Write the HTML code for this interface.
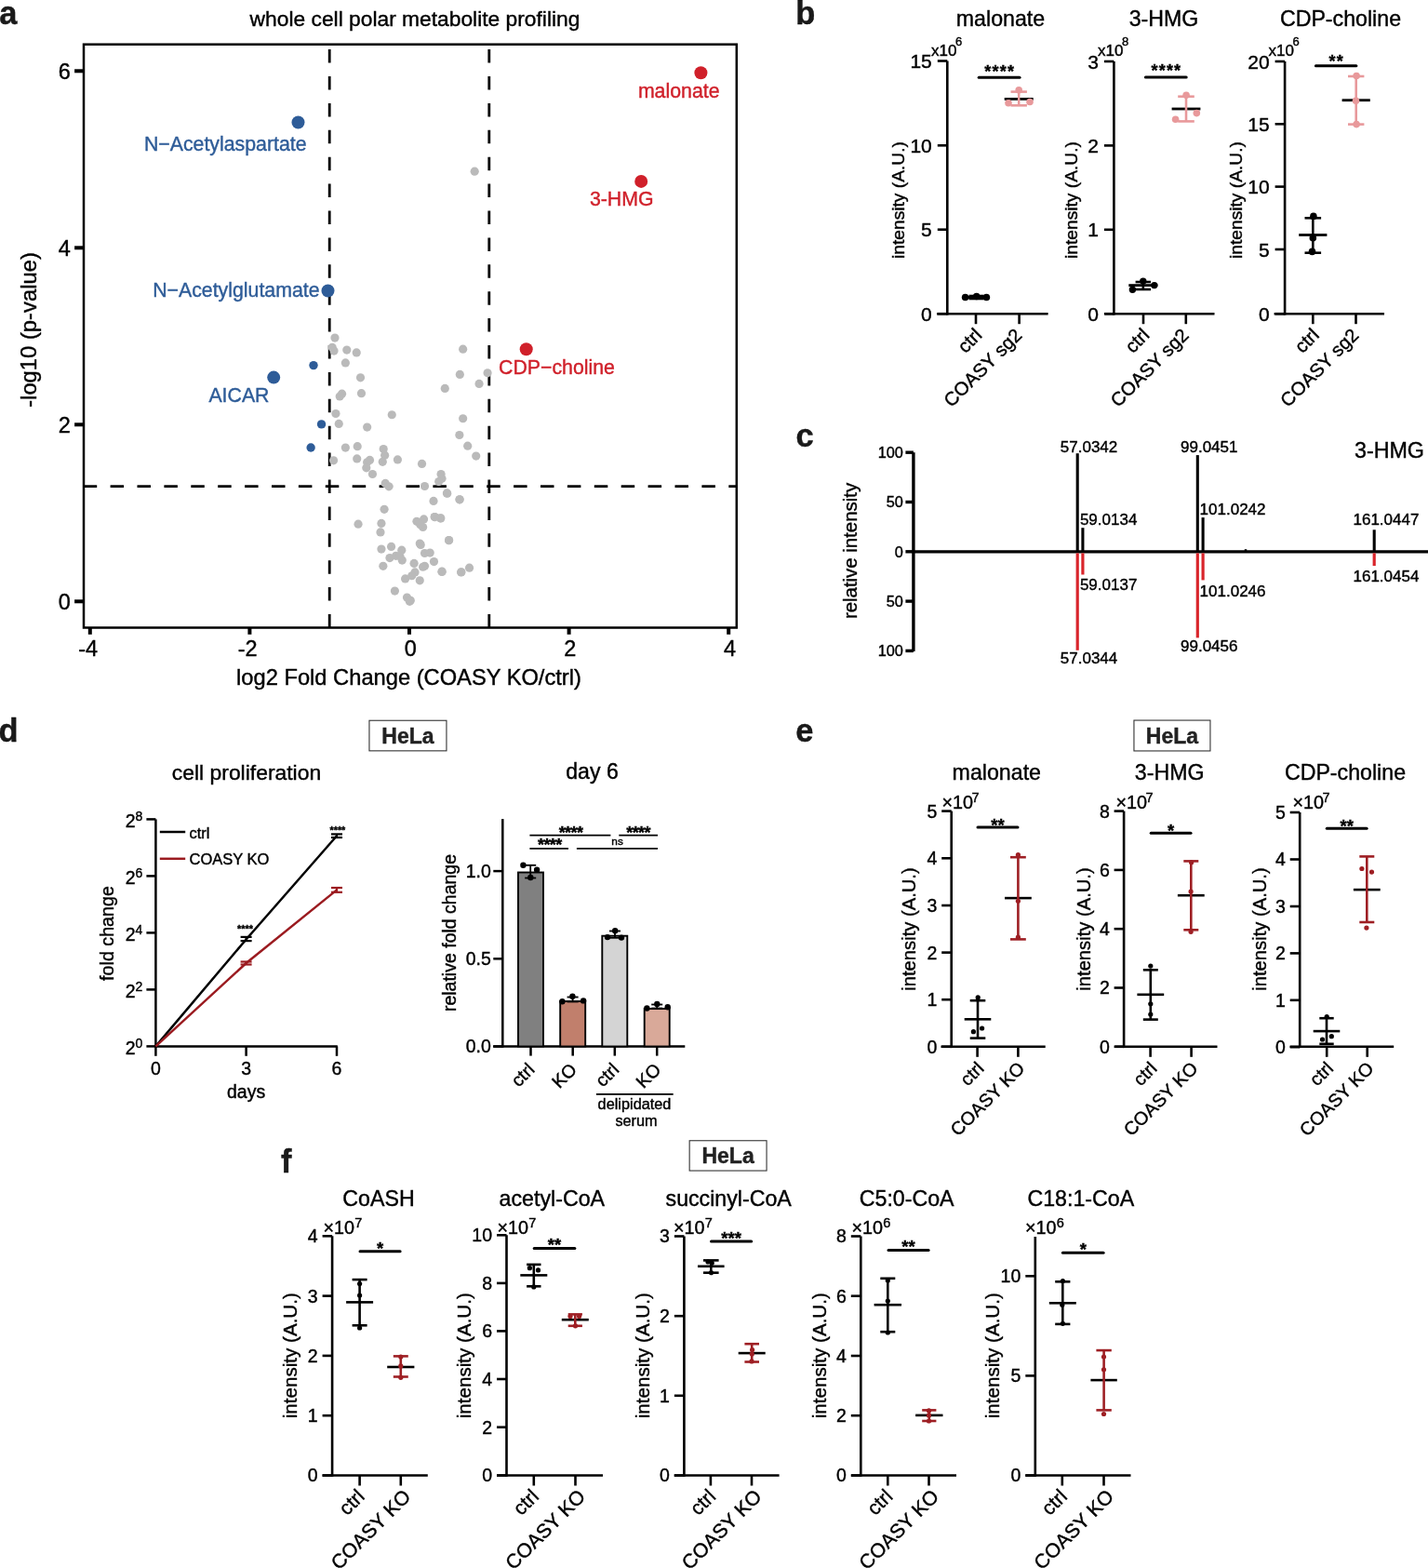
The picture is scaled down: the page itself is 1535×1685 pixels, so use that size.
<!DOCTYPE html>
<html><head><meta charset="utf-8"><title>Figure</title>
<style>
html,body{margin:0;padding:0;background:#fff;}
body{width:1535px;height:1685px;overflow:hidden;}
svg{display:block;}
svg text{font-family:'Liberation Sans', Arial, Helvetica, sans-serif;stroke:currentColor;stroke-width:0.4px;}
</style></head>
<body>
<svg width="1535" height="1685" viewBox="0 0 1535 1685" font-family="'Liberation Sans', Arial, Helvetica, sans-serif">
<rect width="1535" height="1685" fill="#fff"/>
<text transform="translate(-0.7 25.6) scale(0.97 1)" font-size="35.5" font-weight="bold" fill="#1a1a1a">a</text>
<text transform="translate(855.3 26.2) scale(0.97 1)" font-size="35.5" font-weight="bold" fill="#1a1a1a">b</text>
<text transform="translate(855.5 479.5) scale(0.97 1)" font-size="35.5" font-weight="bold" fill="#1a1a1a">c</text>
<text transform="translate(-1.6 796.5) scale(0.97 1)" font-size="35.5" font-weight="bold" fill="#1a1a1a">d</text>
<text transform="translate(855.3 796.7) scale(0.97 1)" font-size="35.5" font-weight="bold" fill="#1a1a1a">e</text>
<text transform="translate(302 1259.7) scale(0.97 1)" font-size="35.5" font-weight="bold" fill="#1a1a1a">f</text>
<text x="446" y="28" font-size="22.8" text-anchor="middle">whole cell polar metabolite profiling</text>
<line x1="354.2" y1="674.5" x2="354.2" y2="47.7" stroke="#000" stroke-width="2.8" stroke-dasharray="14.5 14.4"/>
<line x1="525.8" y1="674.5" x2="525.8" y2="47.7" stroke="#000" stroke-width="2.8" stroke-dasharray="14.5 14.4"/>
<line x1="89.7" y1="522.7" x2="791.8" y2="522.7" stroke="#000" stroke-width="2.8" stroke-dasharray="14.5 14.4"/>
<circle cx="359.97" cy="363.11" r="4.6" fill="#BABABA"/>
<circle cx="357.12" cy="373.27" r="4.6" fill="#BABABA"/>
<circle cx="359.02" cy="377.07" r="4.6" fill="#BABABA"/>
<circle cx="372.8" cy="376.12" r="4.6" fill="#BABABA"/>
<circle cx="383.25" cy="378.97" r="4.6" fill="#BABABA"/>
<circle cx="371.37" cy="389.9" r="4.6" fill="#BABABA"/>
<circle cx="387.52" cy="405.86" r="4.6" fill="#BABABA"/>
<circle cx="367.57" cy="423.15" r="4.6" fill="#BABABA"/>
<circle cx="365.2" cy="426" r="4.6" fill="#BABABA"/>
<circle cx="388.47" cy="422.67" r="4.6" fill="#BABABA"/>
<circle cx="360.92" cy="444.52" r="4.6" fill="#BABABA"/>
<circle cx="421.25" cy="445.75" r="4.6" fill="#BABABA"/>
<circle cx="364.25" cy="455.44" r="4.6" fill="#BABABA"/>
<circle cx="394.65" cy="459.05" r="4.6" fill="#BABABA"/>
<circle cx="371.37" cy="481.09" r="4.6" fill="#BABABA"/>
<circle cx="384.2" cy="479.67" r="4.6" fill="#BABABA"/>
<circle cx="412.22" cy="482.52" r="4.6" fill="#BABABA"/>
<circle cx="413.65" cy="489.17" r="4.6" fill="#BABABA"/>
<circle cx="411.27" cy="496.29" r="4.6" fill="#BABABA"/>
<circle cx="383.72" cy="492.97" r="4.6" fill="#BABABA"/>
<circle cx="397.5" cy="494.39" r="4.6" fill="#BABABA"/>
<circle cx="394.65" cy="496.77" r="4.6" fill="#BABABA"/>
<circle cx="358.55" cy="494.87" r="4.6" fill="#BABABA"/>
<circle cx="427.42" cy="493.92" r="4.6" fill="#BABABA"/>
<circle cx="453.54" cy="498.38" r="4.6" fill="#BABABA"/>
<circle cx="497.66" cy="375.17" r="4.6" fill="#BABABA"/>
<circle cx="494.34" cy="402.44" r="4.6" fill="#BABABA"/>
<circle cx="524.07" cy="400.82" r="4.6" fill="#BABABA"/>
<circle cx="515.05" cy="412.41" r="4.6" fill="#BABABA"/>
<circle cx="478.28" cy="417.45" r="4.6" fill="#BABABA"/>
<circle cx="497.66" cy="449.74" r="4.6" fill="#BABABA"/>
<circle cx="493.86" cy="467.51" r="4.6" fill="#BABABA"/>
<circle cx="502.7" cy="479.19" r="4.6" fill="#BABABA"/>
<circle cx="511.72" cy="490.12" r="4.6" fill="#BABABA"/>
<circle cx="393.8" cy="502.85" r="4.6" fill="#BABABA"/>
<circle cx="400.45" cy="509.5" r="4.6" fill="#BABABA"/>
<circle cx="414.22" cy="519.47" r="4.6" fill="#BABABA"/>
<circle cx="418.02" cy="522.8" r="4.6" fill="#BABABA"/>
<circle cx="456.5" cy="522.51" r="4.6" fill="#BABABA"/>
<circle cx="474.07" cy="509.5" r="4.6" fill="#BABABA"/>
<circle cx="475.02" cy="514.25" r="4.6" fill="#BABABA"/>
<circle cx="471.69" cy="517.57" r="4.6" fill="#BABABA"/>
<circle cx="480.72" cy="530.21" r="4.6" fill="#BABABA"/>
<circle cx="466" cy="538.47" r="4.6" fill="#BABABA"/>
<circle cx="494.02" cy="536.86" r="4.6" fill="#BABABA"/>
<circle cx="413.08" cy="547.31" r="4.6" fill="#BABABA"/>
<circle cx="409.95" cy="562.41" r="4.6" fill="#BABABA"/>
<circle cx="409" cy="571.91" r="4.6" fill="#BABABA"/>
<circle cx="447.95" cy="560.32" r="4.6" fill="#BABABA"/>
<circle cx="455.55" cy="557.95" r="4.6" fill="#BABABA"/>
<circle cx="454.6" cy="566.5" r="4.6" fill="#BABABA"/>
<circle cx="451.75" cy="563.65" r="4.6" fill="#BABABA"/>
<circle cx="467.42" cy="555.57" r="4.6" fill="#BABABA"/>
<circle cx="473.59" cy="556.81" r="4.6" fill="#BABABA"/>
<circle cx="482.62" cy="580.55" r="4.6" fill="#BABABA"/>
<circle cx="451.27" cy="584.07" r="4.6" fill="#BABABA"/>
<circle cx="452.22" cy="585.49" r="4.6" fill="#BABABA"/>
<circle cx="409.95" cy="590.05" r="4.6" fill="#BABABA"/>
<circle cx="420.59" cy="587.39" r="4.6" fill="#BABABA"/>
<circle cx="431.8" cy="591.19" r="4.6" fill="#BABABA"/>
<circle cx="425.62" cy="597.37" r="4.6" fill="#BABABA"/>
<circle cx="418.97" cy="599.55" r="4.6" fill="#BABABA"/>
<circle cx="432.27" cy="602.12" r="4.6" fill="#BABABA"/>
<circle cx="429.9" cy="597.84" r="4.6" fill="#BABABA"/>
<circle cx="456.5" cy="594.52" r="4.6" fill="#BABABA"/>
<circle cx="462.2" cy="594.04" r="4.6" fill="#BABABA"/>
<circle cx="466.47" cy="603.54" r="4.6" fill="#BABABA"/>
<circle cx="456.5" cy="608.29" r="4.6" fill="#BABABA"/>
<circle cx="454.6" cy="609.24" r="4.6" fill="#BABABA"/>
<circle cx="445.1" cy="605.44" r="4.6" fill="#BABABA"/>
<circle cx="446.05" cy="614.94" r="4.6" fill="#BABABA"/>
<circle cx="442.72" cy="618.74" r="4.6" fill="#BABABA"/>
<circle cx="411.85" cy="608.29" r="4.6" fill="#BABABA"/>
<circle cx="475.02" cy="614.47" r="4.6" fill="#BABABA"/>
<circle cx="495.92" cy="614.75" r="4.6" fill="#BABABA"/>
<circle cx="435.6" cy="621.88" r="4.6" fill="#BABABA"/>
<circle cx="451.27" cy="623.78" r="4.6" fill="#BABABA"/>
<circle cx="424.39" cy="635.08" r="4.6" fill="#BABABA"/>
<circle cx="437.5" cy="642.02" r="4.6" fill="#BABABA"/>
<circle cx="441.3" cy="645.34" r="4.6" fill="#BABABA"/>
<circle cx="440.35" cy="646.29" r="4.6" fill="#BABABA"/>
<circle cx="494.1" cy="536.81" r="4.6" fill="#BABABA"/>
<circle cx="482.51" cy="580.69" r="4.6" fill="#BABABA"/>
<circle cx="495.62" cy="614.89" r="4.6" fill="#BABABA"/>
<circle cx="504.54" cy="610.14" r="4.6" fill="#BABABA"/>
<circle cx="475.1" cy="614.13" r="4.6" fill="#BABABA"/>
<circle cx="480.42" cy="529.97" r="4.6" fill="#BABABA"/>
<circle cx="473.77" cy="556.95" r="4.6" fill="#BABABA"/>
<circle cx="467.12" cy="555.62" r="4.6" fill="#BABABA"/>
<circle cx="510.2" cy="184.2" r="4.6" fill="#BABABA"/>
<circle cx="385.05" cy="563.2" r="4.6" fill="#BABABA"/>
<circle cx="294.2" cy="405.6" r="7" fill="#2E5C98"/>
<circle cx="337" cy="392.6" r="4.7" fill="#2E5C98"/>
<circle cx="345.54" cy="455.88" r="4.7" fill="#2E5C98"/>
<circle cx="334.14" cy="480.96" r="4.7" fill="#2E5C98"/>
<circle cx="320.5" cy="131.5" r="7" fill="#2E5C98"/>
<circle cx="352.5" cy="312.5" r="7" fill="#2E5C98"/>
<circle cx="753.4" cy="78.2" r="7" fill="#D0202A"/>
<circle cx="689.2" cy="194.9" r="7" fill="#D0202A"/>
<circle cx="565.7" cy="375.3" r="7" fill="#D0202A"/>
<text x="329.5" y="162" font-size="21.3" text-anchor="end" fill="#2E5C98" color="#2E5C98">N&#8722;Acetylaspartate</text>
<text x="343.5" y="319" font-size="21.3" text-anchor="end" fill="#2E5C98" color="#2E5C98">N&#8722;Acetylglutamate</text>
<text x="289.5" y="432" font-size="21.3" text-anchor="end" fill="#2E5C98" color="#2E5C98">AICAR</text>
<text x="773.5" y="105" font-size="21.3" text-anchor="end" fill="#D0202A" color="#D0202A">malonate</text>
<text x="702.5" y="221" font-size="21.3" text-anchor="end" fill="#D0202A" color="#D0202A">3-HMG</text>
<text x="536" y="402" font-size="21.3" fill="#D0202A" color="#D0202A">CDP&#8722;choline</text>
<rect x="90" y="47.7" width="701.8" height="626.8" fill="none" stroke="#000" stroke-width="2.5"/>
<line x1="80.1" y1="646.3" x2="90" y2="646.3" stroke="#000" stroke-width="4"/>
<text x="75.8" y="654.7" font-size="23.5" text-anchor="end">0</text>
<line x1="80.1" y1="456.3" x2="90" y2="456.3" stroke="#000" stroke-width="4"/>
<text x="75.8" y="464.7" font-size="23.5" text-anchor="end">2</text>
<line x1="80.1" y1="266.3" x2="90" y2="266.3" stroke="#000" stroke-width="4"/>
<text x="75.8" y="274.7" font-size="23.5" text-anchor="end">4</text>
<line x1="80.1" y1="76.3" x2="90" y2="76.3" stroke="#000" stroke-width="4"/>
<text x="75.8" y="84.7" font-size="23.5" text-anchor="end">6</text>
<line x1="96.8" y1="674.5" x2="96.8" y2="681.8" stroke="#000" stroke-width="4"/>
<text x="94.6" y="705.2" font-size="23.5" text-anchor="middle">-4</text>
<line x1="268.4" y1="674.5" x2="268.4" y2="681.8" stroke="#000" stroke-width="4"/>
<text x="266.2" y="705.2" font-size="23.5" text-anchor="middle">-2</text>
<line x1="440" y1="674.5" x2="440" y2="681.8" stroke="#000" stroke-width="4"/>
<text x="441.3" y="705.2" font-size="23.5" text-anchor="middle">0</text>
<line x1="611.6" y1="674.5" x2="611.6" y2="681.8" stroke="#000" stroke-width="4"/>
<text x="612.9" y="705.2" font-size="23.5" text-anchor="middle">2</text>
<line x1="783.2" y1="674.5" x2="783.2" y2="681.8" stroke="#000" stroke-width="4"/>
<text x="784.5" y="705.2" font-size="23.5" text-anchor="middle">4</text>
<text x="439.5" y="735.5" font-size="23.7" text-anchor="middle">log2 Fold Change (COASY KO/ctrl)</text>
<text x="39.3" y="354.5" font-size="23.8" text-anchor="middle" transform="rotate(-90 39.3 354.5)">-log10 (p-value)</text>
<text x="1075.5" y="28" font-size="23.2" text-anchor="middle">malonate</text>
<line x1="1018.3" y1="65.5" x2="1018.3" y2="338.5" stroke="#000" stroke-width="2.6"/>
<line x1="1007" y1="337.2" x2="1126.6" y2="337.2" stroke="#000" stroke-width="2.6"/>
<line x1="1007.8" y1="65.5" x2="1018.3" y2="65.5" stroke="#000" stroke-width="2.6"/>
<text x="1001.8" y="73.02" font-size="21" text-anchor="end">15</text>
<line x1="1007.8" y1="156.3" x2="1018.3" y2="156.3" stroke="#000" stroke-width="2.6"/>
<text x="1001.8" y="163.82" font-size="21" text-anchor="end">10</text>
<line x1="1007.8" y1="246.7" x2="1018.3" y2="246.7" stroke="#000" stroke-width="2.6"/>
<text x="1001.8" y="254.22" font-size="21" text-anchor="end">5</text>
<line x1="1007.8" y1="337.2" x2="1018.3" y2="337.2" stroke="#000" stroke-width="2.6"/>
<text x="1001.8" y="344.72" font-size="21" text-anchor="end">0</text>
<line x1="1049" y1="337.2" x2="1049" y2="348.2" stroke="#000" stroke-width="2.6"/>
<line x1="1095.6" y1="337.2" x2="1095.6" y2="348.2" stroke="#000" stroke-width="2.6"/>
<text x="1001" y="59.7" font-size="17">x10<tspan font-size="13" dx="-1.4" dy="-11">6</tspan></text>
<text x="972.1" y="215" font-size="19.2" text-anchor="middle" transform="rotate(-90 972.1 215)">intensity (A.U.)</text>
<text x="1056.8" y="361.4" font-size="20.3" text-anchor="end" transform="rotate(-45 1056.8 361.4)">ctrl</text>
<text x="1099.8" y="361.4" font-size="20.3" text-anchor="end" transform="rotate(-45 1099.8 361.4)">COASY sg2</text>
<line x1="1052.2" y1="83.3" x2="1096" y2="83.3" stroke="#000" stroke-width="3" stroke-linecap="round"/>
<text x="1074.7" y="82.5" font-size="18" text-anchor="middle" font-weight="bold" letter-spacing="1.2">****</text>
<line x1="1035.5" y1="319.5" x2="1063.5" y2="319.5" stroke="#000" stroke-width="2.8"/>
<line x1="1049.5" y1="318" x2="1049.5" y2="321" stroke="#000" stroke-width="2.6"/>
<line x1="1041.5" y1="318" x2="1057.5" y2="318" stroke="#000" stroke-width="2.6"/>
<line x1="1041.5" y1="321" x2="1057.5" y2="321" stroke="#000" stroke-width="2.6"/>
<circle cx="1037.6" cy="319.5" r="3.8" fill="#000"/>
<circle cx="1049.7" cy="318.5" r="3.8" fill="#000"/>
<circle cx="1060.4" cy="319.5" r="3.8" fill="#000"/>
<line x1="1079.7" y1="106.4" x2="1110.7" y2="106.4" stroke="#000" stroke-width="2.8"/>
<line x1="1095.2" y1="98.6" x2="1095.2" y2="113.3" stroke="#E8999B" stroke-width="2.6"/>
<line x1="1086.5" y1="98.6" x2="1103.9" y2="98.6" stroke="#E8999B" stroke-width="2.6"/>
<line x1="1086.5" y1="113.3" x2="1103.9" y2="113.3" stroke="#E8999B" stroke-width="2.6"/>
<circle cx="1095.2" cy="96.8" r="3.8" fill="#E8999B"/>
<circle cx="1084" cy="110.8" r="3.8" fill="#E8999B"/>
<circle cx="1107" cy="109.5" r="3.8" fill="#E8999B"/>
<text x="1251" y="28" font-size="23.2" text-anchor="middle">3-HMG</text>
<line x1="1197.4" y1="66" x2="1197.4" y2="338.5" stroke="#000" stroke-width="2.6"/>
<line x1="1187.4" y1="337.2" x2="1305.5" y2="337.2" stroke="#000" stroke-width="2.6"/>
<line x1="1186.9" y1="66" x2="1197.4" y2="66" stroke="#000" stroke-width="2.6"/>
<text x="1180.9" y="73.52" font-size="21" text-anchor="end">3</text>
<line x1="1186.9" y1="156.4" x2="1197.4" y2="156.4" stroke="#000" stroke-width="2.6"/>
<text x="1180.9" y="163.92" font-size="21" text-anchor="end">2</text>
<line x1="1186.9" y1="246.8" x2="1197.4" y2="246.8" stroke="#000" stroke-width="2.6"/>
<text x="1180.9" y="254.32" font-size="21" text-anchor="end">1</text>
<line x1="1186.9" y1="337.2" x2="1197.4" y2="337.2" stroke="#000" stroke-width="2.6"/>
<text x="1180.9" y="344.72" font-size="21" text-anchor="end">0</text>
<line x1="1229" y1="337.2" x2="1229" y2="348.2" stroke="#000" stroke-width="2.6"/>
<line x1="1274.8" y1="337.2" x2="1274.8" y2="348.2" stroke="#000" stroke-width="2.6"/>
<text x="1180" y="59.7" font-size="17">x10<tspan font-size="13" dx="-1.4" dy="-11">8</tspan></text>
<text x="1158.1" y="215" font-size="19.2" text-anchor="middle" transform="rotate(-90 1158.1 215)">intensity (A.U.)</text>
<text x="1236.8" y="361.4" font-size="20.3" text-anchor="end" transform="rotate(-45 1236.8 361.4)">ctrl</text>
<text x="1279" y="361.4" font-size="20.3" text-anchor="end" transform="rotate(-45 1279 361.4)">COASY sg2</text>
<line x1="1231.4" y1="83.1" x2="1275.2" y2="83.1" stroke="#000" stroke-width="3" stroke-linecap="round"/>
<text x="1253.9" y="82.3" font-size="18" text-anchor="middle" font-weight="bold" letter-spacing="1.2">****</text>
<line x1="1213.3" y1="306.6" x2="1244.3" y2="306.6" stroke="#000" stroke-width="2.8"/>
<line x1="1228.8" y1="303" x2="1228.8" y2="311" stroke="#000" stroke-width="2.6"/>
<line x1="1220.6" y1="303" x2="1237" y2="303" stroke="#000" stroke-width="2.6"/>
<line x1="1220.6" y1="311" x2="1237" y2="311" stroke="#000" stroke-width="2.6"/>
<circle cx="1217.4" cy="311.2" r="3.7" fill="#000"/>
<circle cx="1228.8" cy="302.1" r="3.7" fill="#000"/>
<circle cx="1240.8" cy="306.6" r="3.7" fill="#000"/>
<line x1="1259.6" y1="117" x2="1290.4" y2="117" stroke="#000" stroke-width="2.8"/>
<line x1="1275" y1="103.7" x2="1275" y2="130.4" stroke="#E8999B" stroke-width="2.6"/>
<line x1="1266.2" y1="103.7" x2="1283.8" y2="103.7" stroke="#E8999B" stroke-width="2.6"/>
<line x1="1266.2" y1="130.4" x2="1283.8" y2="130.4" stroke="#E8999B" stroke-width="2.6"/>
<circle cx="1275.1" cy="102.3" r="3.8" fill="#E8999B"/>
<circle cx="1263.6" cy="128.2" r="3.8" fill="#E8999B"/>
<circle cx="1286.3" cy="121.6" r="3.8" fill="#E8999B"/>
<text x="1441" y="28" font-size="23.2" text-anchor="middle">CDP-choline</text>
<line x1="1381.1" y1="66" x2="1381.1" y2="338.5" stroke="#000" stroke-width="2.6"/>
<line x1="1369.6" y1="337.2" x2="1488" y2="337.2" stroke="#000" stroke-width="2.6"/>
<line x1="1370.6" y1="66" x2="1381.1" y2="66" stroke="#000" stroke-width="2.6"/>
<text x="1364.6" y="73.52" font-size="21" text-anchor="end">20</text>
<line x1="1370.6" y1="133.3" x2="1381.1" y2="133.3" stroke="#000" stroke-width="2.6"/>
<text x="1364.6" y="140.82" font-size="21" text-anchor="end">15</text>
<line x1="1370.6" y1="200.6" x2="1381.1" y2="200.6" stroke="#000" stroke-width="2.6"/>
<text x="1364.6" y="208.12" font-size="21" text-anchor="end">10</text>
<line x1="1370.6" y1="268" x2="1381.1" y2="268" stroke="#000" stroke-width="2.6"/>
<text x="1364.6" y="275.52" font-size="21" text-anchor="end">5</text>
<line x1="1370.6" y1="337.2" x2="1381.1" y2="337.2" stroke="#000" stroke-width="2.6"/>
<text x="1364.6" y="344.72" font-size="21" text-anchor="end">0</text>
<line x1="1411.3" y1="337.2" x2="1411.3" y2="348.2" stroke="#000" stroke-width="2.6"/>
<line x1="1457.5" y1="337.2" x2="1457.5" y2="348.2" stroke="#000" stroke-width="2.6"/>
<text x="1363.5" y="59.7" font-size="17">x10<tspan font-size="13" dx="-1.4" dy="-11">6</tspan></text>
<text x="1334.5" y="215" font-size="19.2" text-anchor="middle" transform="rotate(-90 1334.5 215)">intensity (A.U.)</text>
<text x="1419.1" y="361.4" font-size="20.3" text-anchor="end" transform="rotate(-45 1419.1 361.4)">ctrl</text>
<text x="1461.7" y="361.4" font-size="20.3" text-anchor="end" transform="rotate(-45 1461.7 361.4)">COASY sg2</text>
<line x1="1414.4" y1="70.8" x2="1457.9" y2="70.8" stroke="#000" stroke-width="3" stroke-linecap="round"/>
<text x="1436.75" y="72.1" font-size="18" text-anchor="middle" font-weight="bold" letter-spacing="1.2">**</text>
<line x1="1396.2" y1="252.5" x2="1426.4" y2="252.5" stroke="#000" stroke-width="2.8"/>
<line x1="1411.3" y1="234.3" x2="1411.3" y2="271.7" stroke="#000" stroke-width="2.6"/>
<line x1="1402.5" y1="234.3" x2="1420.1" y2="234.3" stroke="#000" stroke-width="2.6"/>
<line x1="1402.5" y1="271.7" x2="1420.1" y2="271.7" stroke="#000" stroke-width="2.6"/>
<circle cx="1411.9" cy="232.4" r="3.8" fill="#000"/>
<circle cx="1411.3" cy="255.7" r="3.8" fill="#000"/>
<circle cx="1410.5" cy="270.4" r="3.8" fill="#000"/>
<line x1="1442.6" y1="107.7" x2="1472.8" y2="107.7" stroke="#000" stroke-width="2.8"/>
<line x1="1457.7" y1="82" x2="1457.7" y2="133.6" stroke="#E8999B" stroke-width="2.6"/>
<line x1="1449" y1="82" x2="1466.4" y2="82" stroke="#E8999B" stroke-width="2.6"/>
<line x1="1449" y1="133.6" x2="1466.4" y2="133.6" stroke="#E8999B" stroke-width="2.6"/>
<circle cx="1458.1" cy="81.5" r="3.8" fill="#E8999B"/>
<circle cx="1457.5" cy="108.2" r="3.8" fill="#E8999B"/>
<circle cx="1458.1" cy="133.6" r="3.8" fill="#E8999B"/>
<line x1="981.9" y1="486.2" x2="981.9" y2="699.9" stroke="#000" stroke-width="3.4"/>
<line x1="981.9" y1="592.8" x2="1535" y2="592.8" stroke="#000" stroke-width="3.2"/>
<line x1="973.4" y1="486.2" x2="981.9" y2="486.2" stroke="#000" stroke-width="3.4"/>
<text x="970.9" y="492" font-size="16.3" text-anchor="end">100</text>
<line x1="973.4" y1="539.5" x2="981.9" y2="539.5" stroke="#000" stroke-width="3.4"/>
<text x="970.9" y="545.3" font-size="16.3" text-anchor="end">50</text>
<line x1="973.4" y1="592.8" x2="981.9" y2="592.8" stroke="#000" stroke-width="3.4"/>
<text x="970.9" y="598.6" font-size="16.3" text-anchor="end">0</text>
<line x1="973.4" y1="646.1" x2="981.9" y2="646.1" stroke="#000" stroke-width="3.4"/>
<text x="970.9" y="651.9" font-size="16.3" text-anchor="end">50</text>
<line x1="973.4" y1="699.4" x2="981.9" y2="699.4" stroke="#000" stroke-width="3.4"/>
<text x="970.9" y="705.2" font-size="16.3" text-anchor="end">100</text>
<text x="921.3" y="592" font-size="20.4" text-anchor="middle" transform="rotate(-90 921.3 592)">relative intensity</text>
<text x="1531" y="491.5" font-size="23.3" text-anchor="end">3-HMG</text>
<line x1="1158.2" y1="592.8" x2="1158.2" y2="487.2" stroke="#000" stroke-width="3.1"/>
<line x1="1163.9" y1="592.8" x2="1163.9" y2="567.2" stroke="#000" stroke-width="3.1"/>
<line x1="1287.3" y1="592.8" x2="1287.3" y2="489.1" stroke="#000" stroke-width="3.1"/>
<line x1="1293.1" y1="592.8" x2="1293.1" y2="556.1" stroke="#000" stroke-width="3.1"/>
<line x1="1477.2" y1="592.8" x2="1477.2" y2="569.3" stroke="#000" stroke-width="3.1"/>
<line x1="1158.2" y1="594.4" x2="1158.2" y2="698.8" stroke="#D9252B" stroke-width="3.2"/>
<line x1="1163.9" y1="594.4" x2="1163.9" y2="617.5" stroke="#D9252B" stroke-width="3.2"/>
<line x1="1287.3" y1="594.4" x2="1287.3" y2="685.4" stroke="#D9252B" stroke-width="3.2"/>
<line x1="1293.1" y1="594.4" x2="1293.1" y2="623.4" stroke="#D9252B" stroke-width="3.2"/>
<line x1="1477.2" y1="594.4" x2="1477.2" y2="608.1" stroke="#D9252B" stroke-width="3.2"/>
<line x1="1339" y1="592.8" x2="1339" y2="590.2" stroke="#000" stroke-width="2.5"/>
<text x="1139.8" y="486.2" font-size="17">57.0342</text>
<text x="1160.9" y="564" font-size="17">59.0134</text>
<text x="1269" y="486.2" font-size="17">99.0451</text>
<text x="1289.6" y="552.7" font-size="17">101.0242</text>
<text x="1454.5" y="564" font-size="17">161.0447</text>
<text x="1160.9" y="633.9" font-size="17">59.0137</text>
<text x="1289.6" y="641" font-size="17">101.0246</text>
<text x="1454.5" y="624.7" font-size="17">161.0454</text>
<text x="1139.8" y="713.1" font-size="17">57.0344</text>
<text x="1269" y="699.9" font-size="17">99.0456</text>
<rect x="396.95" y="774.25" width="83" height="32.6" fill="#fff" stroke="#333" stroke-width="1.1"/>
<text x="438.45" y="799.2" font-size="23" text-anchor="middle" fill="#222" color="#222" font-weight="bold">HeLa</text>
<rect x="1218.95" y="774.05" width="82" height="32.9" fill="#fff" stroke="#333" stroke-width="1.1"/>
<text x="1259.95" y="798.9" font-size="23" text-anchor="middle" fill="#222" color="#222" font-weight="bold">HeLa</text>
<rect x="741.15" y="1225.75" width="82.9" height="32.3" fill="#fff" stroke="#333" stroke-width="1.1"/>
<text x="782.6" y="1250.1" font-size="23" text-anchor="middle" fill="#222" color="#222" font-weight="bold">HeLa</text>
<text x="265" y="838" font-size="22.9" text-anchor="middle">cell proliferation</text>
<line x1="167.4" y1="880.4" x2="167.4" y2="1125.6" stroke="#000" stroke-width="2.5"/>
<line x1="166.2" y1="1124.4" x2="362.8" y2="1124.4" stroke="#000" stroke-width="2.5"/>
<line x1="157.4" y1="880.4" x2="167.4" y2="880.4" stroke="#000" stroke-width="2.5"/>
<text x="153.4" y="888.9" font-size="19.5" text-anchor="end">2<tspan font-size="14" dy="-6.9">8</tspan></text>
<line x1="157.4" y1="941.4" x2="167.4" y2="941.4" stroke="#000" stroke-width="2.5"/>
<text x="153.4" y="949.9" font-size="19.5" text-anchor="end">2<tspan font-size="14" dy="-6.9">6</tspan></text>
<line x1="157.4" y1="1002.4" x2="167.4" y2="1002.4" stroke="#000" stroke-width="2.5"/>
<text x="153.4" y="1010.9" font-size="19.5" text-anchor="end">2<tspan font-size="14" dy="-6.9">4</tspan></text>
<line x1="157.4" y1="1063.4" x2="167.4" y2="1063.4" stroke="#000" stroke-width="2.5"/>
<text x="153.4" y="1071.9" font-size="19.5" text-anchor="end">2<tspan font-size="14" dy="-6.9">2</tspan></text>
<line x1="157.4" y1="1124.4" x2="167.4" y2="1124.4" stroke="#000" stroke-width="2.5"/>
<text x="153.4" y="1132.9" font-size="19.5" text-anchor="end">2<tspan font-size="14" dy="-6.9">0</tspan></text>
<line x1="167.4" y1="1124.4" x2="167.4" y2="1134.8" stroke="#000" stroke-width="2.5"/>
<text x="167.4" y="1155.3" font-size="19.5" text-anchor="middle">0</text>
<line x1="264.6" y1="1124.4" x2="264.6" y2="1134.8" stroke="#000" stroke-width="2.5"/>
<text x="264.6" y="1155.3" font-size="19.5" text-anchor="middle">3</text>
<line x1="362" y1="1124.4" x2="362" y2="1134.8" stroke="#000" stroke-width="2.5"/>
<text x="362" y="1155.3" font-size="19.5" text-anchor="middle">6</text>
<text x="264.6" y="1180" font-size="19.5" text-anchor="middle">days</text>
<text x="121.5" y="1003" font-size="19.7" text-anchor="middle" transform="rotate(-90 121.5 1003)">fold change</text>
<polyline points="167.4,1124.4 264.6,1009.5 362,898.2" fill="none" stroke="#000" stroke-width="2.5"/>
<polyline points="167.4,1124.4 264.6,1035 362,956.4" fill="none" stroke="#9B1B20" stroke-width="2.5"/>
<line x1="258.6" y1="1006.9" x2="270.6" y2="1006.9" stroke="#000" stroke-width="2.2"/>
<line x1="258.6" y1="1011.1" x2="270.6" y2="1011.1" stroke="#000" stroke-width="2.2"/>
<line x1="264.6" y1="1006.9" x2="264.6" y2="1011.1" stroke="#000" stroke-width="2.2"/>
<line x1="356" y1="896.4" x2="368" y2="896.4" stroke="#000" stroke-width="2.2"/>
<line x1="356" y1="900" x2="368" y2="900" stroke="#000" stroke-width="2.2"/>
<line x1="362" y1="896.4" x2="362" y2="900" stroke="#000" stroke-width="2.2"/>
<line x1="258.6" y1="1033.5" x2="270.6" y2="1033.5" stroke="#9B1B20" stroke-width="2.2"/>
<line x1="258.6" y1="1036.5" x2="270.6" y2="1036.5" stroke="#9B1B20" stroke-width="2.2"/>
<line x1="264.6" y1="1033.5" x2="264.6" y2="1036.5" stroke="#9B1B20" stroke-width="2.2"/>
<line x1="356" y1="954" x2="368" y2="954" stroke="#9B1B20" stroke-width="2.2"/>
<line x1="356" y1="958.8" x2="368" y2="958.8" stroke="#9B1B20" stroke-width="2.2"/>
<line x1="362" y1="954" x2="362" y2="958.8" stroke="#9B1B20" stroke-width="2.2"/>
<text x="263.5" y="1002" font-size="10.8" text-anchor="middle" font-weight="bold">****</text>
<text x="362.9" y="895.9" font-size="10.8" text-anchor="middle" font-weight="bold">****</text>
<line x1="171.8" y1="894" x2="199.2" y2="894" stroke="#000" stroke-width="2.5"/>
<line x1="171.8" y1="922.8" x2="199.2" y2="922.8" stroke="#9B1B20" stroke-width="2.5"/>
<text x="203.5" y="900.5" font-size="16.5">ctrl</text>
<text x="203.5" y="929" font-size="16.5">COASY KO</text>
<text x="636.5" y="837.3" font-size="23.1" text-anchor="middle">day 6</text>
<line x1="540.3" y1="880.1" x2="540.3" y2="1125.7" stroke="#000" stroke-width="2.5"/>
<line x1="530.2" y1="1124.5" x2="736.3" y2="1124.5" stroke="#000" stroke-width="2.5"/>
<line x1="530.3" y1="936.1" x2="540.3" y2="936.1" stroke="#000" stroke-width="2.5"/>
<text x="527.8" y="943" font-size="19.5" text-anchor="end">1.0</text>
<line x1="530.3" y1="1030.3" x2="540.3" y2="1030.3" stroke="#000" stroke-width="2.5"/>
<text x="527.8" y="1037.2" font-size="19.5" text-anchor="end">0.5</text>
<line x1="530.3" y1="1124.5" x2="540.3" y2="1124.5" stroke="#000" stroke-width="2.5"/>
<text x="527.8" y="1131.4" font-size="19.5" text-anchor="end">0.0</text>
<text x="490" y="1002.5" font-size="19.5" text-anchor="middle" transform="rotate(-90 490 1002.5)">relative fold change</text>
<rect x="557" y="937.5" width="27" height="187" fill="#808080" stroke="#000" stroke-width="1.9"/>
<line x1="570.5" y1="1124.5" x2="570.5" y2="1134.6" stroke="#000" stroke-width="2.5"/>
<rect x="602.2" y="1076" width="27" height="48.5" fill="#C17F6C" stroke="#000" stroke-width="1.9"/>
<line x1="615.7" y1="1124.5" x2="615.7" y2="1134.6" stroke="#000" stroke-width="2.5"/>
<rect x="647.3" y="1005.7" width="27" height="118.8" fill="#D4D4D4" stroke="#000" stroke-width="1.9"/>
<line x1="660.8" y1="1124.5" x2="660.8" y2="1134.6" stroke="#000" stroke-width="2.5"/>
<rect x="692.7" y="1084" width="27" height="40.5" fill="#D9A999" stroke="#000" stroke-width="1.9"/>
<line x1="706.2" y1="1124.5" x2="706.2" y2="1134.6" stroke="#000" stroke-width="2.5"/>
<line x1="570.2" y1="929.8" x2="570.2" y2="943.5" stroke="#000" stroke-width="1.8"/>
<line x1="564.2" y1="929.8" x2="576.2" y2="929.8" stroke="#000" stroke-width="1.8"/>
<line x1="564.2" y1="943.5" x2="576.2" y2="943.5" stroke="#000" stroke-width="1.8"/>
<circle cx="562.4" cy="929.8" r="3.2" fill="#000"/>
<circle cx="577.1" cy="934.7" r="3.2" fill="#000"/>
<circle cx="570.3" cy="943" r="3.2" fill="#000"/>
<line x1="615.6" y1="1071.5" x2="615.6" y2="1076.5" stroke="#000" stroke-width="1.8"/>
<line x1="609.6" y1="1071.5" x2="621.6" y2="1071.5" stroke="#000" stroke-width="1.8"/>
<line x1="609.6" y1="1076.5" x2="621.6" y2="1076.5" stroke="#000" stroke-width="1.8"/>
<circle cx="604.4" cy="1076.2" r="3.2" fill="#000"/>
<circle cx="615.4" cy="1070.7" r="3.2" fill="#000"/>
<circle cx="627.1" cy="1075.4" r="3.2" fill="#000"/>
<line x1="661" y1="1000.5" x2="661" y2="1007.8" stroke="#000" stroke-width="1.8"/>
<line x1="655" y1="1000.5" x2="667" y2="1000.5" stroke="#000" stroke-width="1.8"/>
<line x1="655" y1="1007.8" x2="667" y2="1007.8" stroke="#000" stroke-width="1.8"/>
<circle cx="661.2" cy="1000.3" r="3.2" fill="#000"/>
<circle cx="653" cy="1007.1" r="3.2" fill="#000"/>
<circle cx="668" cy="1007.6" r="3.2" fill="#000"/>
<line x1="706.2" y1="1079.5" x2="706.2" y2="1083.5" stroke="#000" stroke-width="1.8"/>
<line x1="700.2" y1="1079.5" x2="712.2" y2="1079.5" stroke="#000" stroke-width="1.8"/>
<line x1="700.2" y1="1083.5" x2="712.2" y2="1083.5" stroke="#000" stroke-width="1.8"/>
<circle cx="695.4" cy="1083.5" r="3.2" fill="#000"/>
<circle cx="706.3" cy="1078.9" r="3.2" fill="#000"/>
<circle cx="717.7" cy="1082.2" r="3.2" fill="#000"/>
<line x1="569.4" y1="897.7" x2="656.4" y2="897.7" stroke="#000" stroke-width="1.7"/>
<line x1="665.3" y1="897.7" x2="707" y2="897.7" stroke="#000" stroke-width="1.7"/>
<line x1="569.4" y1="911.8" x2="611" y2="911.8" stroke="#000" stroke-width="1.7"/>
<line x1="619.9" y1="911.8" x2="707" y2="911.8" stroke="#000" stroke-width="1.7"/>
<text x="613.5" y="900.6" font-size="18" text-anchor="middle" font-weight="bold" letter-spacing="-0.6">****</text>
<text x="686.1" y="900.6" font-size="18" text-anchor="middle" font-weight="bold" letter-spacing="-0.6">****</text>
<text x="590.8" y="914.2" font-size="18" text-anchor="middle" font-weight="bold" letter-spacing="-0.6">****</text>
<text x="663.6" y="908" font-size="11.8" text-anchor="middle">ns</text>
<text x="575.8" y="1150.7" font-size="19.5" text-anchor="end" transform="rotate(-45 575.8 1150.7)">ctrl</text>
<text x="621.3" y="1150.7" font-size="19.5" text-anchor="end" transform="rotate(-45 621.3 1150.7)">KO</text>
<text x="666.5" y="1150.7" font-size="19.5" text-anchor="end" transform="rotate(-45 666.5 1150.7)">ctrl</text>
<text x="711.8" y="1150.7" font-size="19.5" text-anchor="end" transform="rotate(-45 711.8 1150.7)">KO</text>
<line x1="640.9" y1="1175.8" x2="723.7" y2="1175.8" stroke="#000" stroke-width="1.8"/>
<text x="682" y="1191.5" font-size="16.3" text-anchor="middle">delipidated</text>
<text x="684" y="1209.5" font-size="16.3" text-anchor="middle">serum</text>
<text x="1071.3" y="837.5" font-size="23.2" text-anchor="middle">malonate</text>
<line x1="1022.7" y1="871.6" x2="1022.7" y2="1126.1" stroke="#000" stroke-width="2.6"/>
<line x1="1011.5" y1="1124.8" x2="1123.7" y2="1124.8" stroke="#000" stroke-width="2.6"/>
<line x1="1012.2" y1="871.6" x2="1022.7" y2="871.6" stroke="#000" stroke-width="2.6"/>
<text x="1007.4" y="878.58" font-size="19.5" text-anchor="end">5</text>
<line x1="1012.2" y1="922.3" x2="1022.7" y2="922.3" stroke="#000" stroke-width="2.6"/>
<text x="1007.4" y="929.28" font-size="19.5" text-anchor="end">4</text>
<line x1="1012.2" y1="973" x2="1022.7" y2="973" stroke="#000" stroke-width="2.6"/>
<text x="1007.4" y="979.98" font-size="19.5" text-anchor="end">3</text>
<line x1="1012.2" y1="1023.6" x2="1022.7" y2="1023.6" stroke="#000" stroke-width="2.6"/>
<text x="1007.4" y="1030.58" font-size="19.5" text-anchor="end">2</text>
<line x1="1012.2" y1="1074.2" x2="1022.7" y2="1074.2" stroke="#000" stroke-width="2.6"/>
<text x="1007.4" y="1081.18" font-size="19.5" text-anchor="end">1</text>
<line x1="1012.2" y1="1124.8" x2="1022.7" y2="1124.8" stroke="#000" stroke-width="2.6"/>
<text x="1007.4" y="1131.78" font-size="19.5" text-anchor="end">0</text>
<line x1="1050.6" y1="1124.8" x2="1050.6" y2="1135.8" stroke="#000" stroke-width="2.6"/>
<line x1="1094.4" y1="1124.8" x2="1094.4" y2="1135.8" stroke="#000" stroke-width="2.6"/>
<text x="1012.5" y="869" font-size="19.8">&#215;10<tspan font-size="14.5" dx="-1.5" dy="-7.2">7</tspan></text>
<text x="984.2" y="998.5" font-size="20.2" text-anchor="middle" transform="rotate(-90 984.2 998.5)">intensity (A.U.)</text>
<text x="1058.8" y="1149.3" font-size="19.8" text-anchor="end" transform="rotate(-45 1058.8 1149.3)">ctrl</text>
<text x="1102.6" y="1149.3" font-size="19.8" text-anchor="end" transform="rotate(-45 1102.6 1149.3)">COASY KO</text>
<line x1="1051" y1="889.1" x2="1094" y2="889.1" stroke="#000" stroke-width="3" stroke-linecap="round"/>
<text x="1072.5" y="892.6" font-size="18.5" text-anchor="middle" font-weight="bold">**</text>
<line x1="1036.7" y1="1095.3" x2="1065.3" y2="1095.3" stroke="#000" stroke-width="2.6"/>
<line x1="1051" y1="1075.2" x2="1051" y2="1115.6" stroke="#000" stroke-width="2.6"/>
<line x1="1042.7" y1="1075.2" x2="1059.3" y2="1075.2" stroke="#000" stroke-width="2.6"/>
<line x1="1042.7" y1="1115.6" x2="1059.3" y2="1115.6" stroke="#000" stroke-width="2.6"/>
<circle cx="1051.2" cy="1071.9" r="2.6" fill="#000"/>
<circle cx="1046.4" cy="1108.7" r="2.6" fill="#000"/>
<circle cx="1055.6" cy="1105" r="2.6" fill="#000"/>
<line x1="1080" y1="965.1" x2="1108.8" y2="965.1" stroke="#000" stroke-width="2.6"/>
<line x1="1094.4" y1="921.2" x2="1094.4" y2="1009.4" stroke="#9E1F24" stroke-width="2.6"/>
<line x1="1086" y1="921.2" x2="1102.8" y2="921.2" stroke="#9E1F24" stroke-width="2.6"/>
<line x1="1086" y1="1009.4" x2="1102.8" y2="1009.4" stroke="#9E1F24" stroke-width="2.6"/>
<circle cx="1094.4" cy="918.7" r="2.6" fill="#9E1F24"/>
<circle cx="1094.4" cy="968.3" r="2.6" fill="#9E1F24"/>
<circle cx="1094.4" cy="1007.2" r="2.6" fill="#9E1F24"/>
<text x="1257.2" y="837.5" font-size="23.2" text-anchor="middle">3-HMG</text>
<line x1="1208.1" y1="871.6" x2="1208.1" y2="1126.1" stroke="#000" stroke-width="2.6"/>
<line x1="1198.3" y1="1124.8" x2="1308.5" y2="1124.8" stroke="#000" stroke-width="2.6"/>
<line x1="1197.6" y1="871.6" x2="1208.1" y2="871.6" stroke="#000" stroke-width="2.6"/>
<text x="1192.8" y="878.58" font-size="19.5" text-anchor="end">8</text>
<line x1="1197.6" y1="934.9" x2="1208.1" y2="934.9" stroke="#000" stroke-width="2.6"/>
<text x="1192.8" y="941.88" font-size="19.5" text-anchor="end">6</text>
<line x1="1197.6" y1="998.2" x2="1208.1" y2="998.2" stroke="#000" stroke-width="2.6"/>
<text x="1192.8" y="1005.18" font-size="19.5" text-anchor="end">4</text>
<line x1="1197.6" y1="1061.5" x2="1208.1" y2="1061.5" stroke="#000" stroke-width="2.6"/>
<text x="1192.8" y="1068.48" font-size="19.5" text-anchor="end">2</text>
<line x1="1197.6" y1="1124.8" x2="1208.1" y2="1124.8" stroke="#000" stroke-width="2.6"/>
<text x="1192.8" y="1131.78" font-size="19.5" text-anchor="end">0</text>
<line x1="1236.6" y1="1124.8" x2="1236.6" y2="1135.8" stroke="#000" stroke-width="2.6"/>
<line x1="1280.6" y1="1124.8" x2="1280.6" y2="1135.8" stroke="#000" stroke-width="2.6"/>
<text x="1199.5" y="869" font-size="19.8">&#215;10<tspan font-size="14.5" dx="-1.5" dy="-7.2">7</tspan></text>
<text x="1171.5" y="998.5" font-size="20.2" text-anchor="middle" transform="rotate(-90 1171.5 998.5)">intensity (A.U.)</text>
<text x="1244.8" y="1149.3" font-size="19.8" text-anchor="end" transform="rotate(-45 1244.8 1149.3)">ctrl</text>
<text x="1288.8" y="1149.3" font-size="19.8" text-anchor="end" transform="rotate(-45 1288.8 1149.3)">COASY KO</text>
<line x1="1237.2" y1="895.3" x2="1280" y2="895.3" stroke="#000" stroke-width="3" stroke-linecap="round"/>
<text x="1258.6" y="898.8" font-size="18.5" text-anchor="middle" font-weight="bold">*</text>
<line x1="1222.4" y1="1068.8" x2="1251.2" y2="1068.8" stroke="#000" stroke-width="2.6"/>
<line x1="1236.8" y1="1042.3" x2="1236.8" y2="1095.6" stroke="#000" stroke-width="2.6"/>
<line x1="1228.8" y1="1042.3" x2="1244.8" y2="1042.3" stroke="#000" stroke-width="2.6"/>
<line x1="1228.8" y1="1095.6" x2="1244.8" y2="1095.6" stroke="#000" stroke-width="2.6"/>
<circle cx="1236.8" cy="1038.1" r="2.6" fill="#000"/>
<circle cx="1236.8" cy="1078.8" r="2.6" fill="#000"/>
<circle cx="1236.8" cy="1090" r="2.6" fill="#000"/>
<line x1="1265.9" y1="962.2" x2="1294.7" y2="962.2" stroke="#000" stroke-width="2.6"/>
<line x1="1280.3" y1="925.4" x2="1280.3" y2="999.3" stroke="#9E1F24" stroke-width="2.6"/>
<line x1="1272.3" y1="925.4" x2="1288.3" y2="925.4" stroke="#9E1F24" stroke-width="2.6"/>
<line x1="1272.3" y1="999.3" x2="1288.3" y2="999.3" stroke="#9E1F24" stroke-width="2.6"/>
<circle cx="1280.6" cy="926.8" r="2.6" fill="#9E1F24"/>
<circle cx="1280.1" cy="958" r="2.6" fill="#9E1F24"/>
<circle cx="1280.1" cy="1001.3" r="2.6" fill="#9E1F24"/>
<text x="1446" y="837.5" font-size="23.2" text-anchor="middle">CDP-choline</text>
<line x1="1397.2" y1="873" x2="1397.2" y2="1126.1" stroke="#000" stroke-width="2.6"/>
<line x1="1386.6" y1="1124.8" x2="1498.2" y2="1124.8" stroke="#000" stroke-width="2.6"/>
<line x1="1386.7" y1="873" x2="1397.2" y2="873" stroke="#000" stroke-width="2.6"/>
<text x="1381.9" y="879.98" font-size="19.5" text-anchor="end">5</text>
<line x1="1386.7" y1="923.5" x2="1397.2" y2="923.5" stroke="#000" stroke-width="2.6"/>
<text x="1381.9" y="930.48" font-size="19.5" text-anchor="end">4</text>
<line x1="1386.7" y1="974" x2="1397.2" y2="974" stroke="#000" stroke-width="2.6"/>
<text x="1381.9" y="980.98" font-size="19.5" text-anchor="end">3</text>
<line x1="1386.7" y1="1024.4" x2="1397.2" y2="1024.4" stroke="#000" stroke-width="2.6"/>
<text x="1381.9" y="1031.38" font-size="19.5" text-anchor="end">2</text>
<line x1="1386.7" y1="1074.8" x2="1397.2" y2="1074.8" stroke="#000" stroke-width="2.6"/>
<text x="1381.9" y="1081.78" font-size="19.5" text-anchor="end">1</text>
<line x1="1386.7" y1="1125.2" x2="1397.2" y2="1125.2" stroke="#000" stroke-width="2.6"/>
<text x="1381.9" y="1132.18" font-size="19.5" text-anchor="end">0</text>
<line x1="1426.2" y1="1124.8" x2="1426.2" y2="1135.8" stroke="#000" stroke-width="2.6"/>
<line x1="1469.7" y1="1124.8" x2="1469.7" y2="1135.8" stroke="#000" stroke-width="2.6"/>
<text x="1389.5" y="869" font-size="19.8">&#215;10<tspan font-size="14.5" dx="-1.5" dy="-7.2">7</tspan></text>
<text x="1361.2" y="998.5" font-size="20.2" text-anchor="middle" transform="rotate(-90 1361.2 998.5)">intensity (A.U.)</text>
<text x="1434.4" y="1149.3" font-size="19.8" text-anchor="end" transform="rotate(-45 1434.4 1149.3)">ctrl</text>
<text x="1477.9" y="1149.3" font-size="19.8" text-anchor="end" transform="rotate(-45 1477.9 1149.3)">COASY KO</text>
<line x1="1426.3" y1="890.3" x2="1469.1" y2="890.3" stroke="#000" stroke-width="3" stroke-linecap="round"/>
<text x="1447.7" y="893.8" font-size="18.5" text-anchor="middle" font-weight="bold">**</text>
<line x1="1411.7" y1="1108.1" x2="1440.3" y2="1108.1" stroke="#000" stroke-width="2.6"/>
<line x1="1426" y1="1094.2" x2="1426" y2="1121.8" stroke="#000" stroke-width="2.6"/>
<line x1="1418.3" y1="1094.2" x2="1433.7" y2="1094.2" stroke="#000" stroke-width="2.6"/>
<line x1="1418.3" y1="1121.8" x2="1433.7" y2="1121.8" stroke="#000" stroke-width="2.6"/>
<circle cx="1426.2" cy="1092.5" r="2.6" fill="#000"/>
<circle cx="1421.5" cy="1117" r="2.6" fill="#000"/>
<circle cx="1431.3" cy="1113.7" r="2.6" fill="#000"/>
<line x1="1454.9" y1="956.1" x2="1483.7" y2="956.1" stroke="#000" stroke-width="2.6"/>
<line x1="1469.3" y1="920.4" x2="1469.3" y2="991" stroke="#9E1F24" stroke-width="2.6"/>
<line x1="1461.3" y1="920.4" x2="1477.3" y2="920.4" stroke="#9E1F24" stroke-width="2.6"/>
<line x1="1461.3" y1="991" x2="1477.3" y2="991" stroke="#9E1F24" stroke-width="2.6"/>
<circle cx="1463.9" cy="933.5" r="2.6" fill="#9E1F24"/>
<circle cx="1474.5" cy="937.1" r="2.6" fill="#9E1F24"/>
<circle cx="1468.9" cy="997.1" r="2.6" fill="#9E1F24"/>
<text x="407" y="1295.9" font-size="23.2" text-anchor="middle">CoASH</text>
<line x1="357.1" y1="1328.3" x2="357.1" y2="1586.8" stroke="#000" stroke-width="2.6"/>
<line x1="346.6" y1="1585.5" x2="459.8" y2="1585.5" stroke="#000" stroke-width="2.6"/>
<line x1="346.6" y1="1328.3" x2="357.1" y2="1328.3" stroke="#000" stroke-width="2.6"/>
<text x="341.6" y="1335.28" font-size="19.5" text-anchor="end">4</text>
<line x1="346.6" y1="1392.6" x2="357.1" y2="1392.6" stroke="#000" stroke-width="2.6"/>
<text x="341.6" y="1399.58" font-size="19.5" text-anchor="end">3</text>
<line x1="346.6" y1="1456.9" x2="357.1" y2="1456.9" stroke="#000" stroke-width="2.6"/>
<text x="341.6" y="1463.88" font-size="19.5" text-anchor="end">2</text>
<line x1="346.6" y1="1521.2" x2="357.1" y2="1521.2" stroke="#000" stroke-width="2.6"/>
<text x="341.6" y="1528.18" font-size="19.5" text-anchor="end">1</text>
<line x1="346.6" y1="1585.5" x2="357.1" y2="1585.5" stroke="#000" stroke-width="2.6"/>
<text x="341.6" y="1592.48" font-size="19.5" text-anchor="end">0</text>
<line x1="386.6" y1="1585.5" x2="386.6" y2="1596.5" stroke="#000" stroke-width="2.6"/>
<line x1="430.8" y1="1585.5" x2="430.8" y2="1596.5" stroke="#000" stroke-width="2.6"/>
<text x="347.5" y="1326" font-size="19.8">&#215;10<tspan font-size="14.5" dx="0.3" dy="-7.2">7</tspan></text>
<text x="319" y="1456.7" font-size="20.6" text-anchor="middle" transform="rotate(-90 319 1456.7)">intensity (A.U.)</text>
<text x="393.2" y="1609.5" font-size="21.3" text-anchor="end" transform="rotate(-45 393.2 1609.5)">ctrl</text>
<text x="442.8" y="1609.5" font-size="21.3" text-anchor="end" transform="rotate(-45 442.8 1609.5)">COASY KO</text>
<line x1="387" y1="1344.8" x2="430.1" y2="1344.8" stroke="#000" stroke-width="3" stroke-linecap="round"/>
<text x="408.55" y="1347.6" font-size="18.5" text-anchor="middle" font-weight="bold">*</text>
<line x1="372.1" y1="1399.4" x2="401.1" y2="1399.4" stroke="#000" stroke-width="2.6"/>
<line x1="386.6" y1="1375.1" x2="386.6" y2="1424.3" stroke="#000" stroke-width="2.6"/>
<line x1="378.6" y1="1375.1" x2="394.6" y2="1375.1" stroke="#000" stroke-width="2.6"/>
<line x1="378.6" y1="1424.3" x2="394.6" y2="1424.3" stroke="#000" stroke-width="2.6"/>
<circle cx="386.6" cy="1379.6" r="2.6" fill="#000"/>
<circle cx="386.6" cy="1392" r="2.6" fill="#000"/>
<circle cx="386.6" cy="1427" r="2.6" fill="#000"/>
<line x1="416.2" y1="1469" x2="445.4" y2="1469" stroke="#000" stroke-width="2.6"/>
<line x1="430.8" y1="1457.4" x2="430.8" y2="1479.5" stroke="#9E1F24" stroke-width="2.6"/>
<line x1="422.8" y1="1457.4" x2="438.8" y2="1457.4" stroke="#9E1F24" stroke-width="2.6"/>
<line x1="422.8" y1="1479.5" x2="438.8" y2="1479.5" stroke="#9E1F24" stroke-width="2.6"/>
<circle cx="430.8" cy="1458" r="2.6" fill="#9E1F24"/>
<circle cx="430.8" cy="1467.9" r="2.6" fill="#9E1F24"/>
<circle cx="430.8" cy="1480.3" r="2.6" fill="#9E1F24"/>
<text x="593.3" y="1295.9" font-size="23.2" text-anchor="middle">acetyl-CoA</text>
<line x1="544.5" y1="1327.3" x2="544.5" y2="1586.8" stroke="#000" stroke-width="2.6"/>
<line x1="534.3" y1="1585.5" x2="648" y2="1585.5" stroke="#000" stroke-width="2.6"/>
<line x1="534" y1="1327.3" x2="544.5" y2="1327.3" stroke="#000" stroke-width="2.6"/>
<text x="529" y="1334.28" font-size="19.5" text-anchor="end">10</text>
<line x1="534" y1="1378.9" x2="544.5" y2="1378.9" stroke="#000" stroke-width="2.6"/>
<text x="529" y="1385.88" font-size="19.5" text-anchor="end">8</text>
<line x1="534" y1="1430.4" x2="544.5" y2="1430.4" stroke="#000" stroke-width="2.6"/>
<text x="529" y="1437.38" font-size="19.5" text-anchor="end">6</text>
<line x1="534" y1="1482" x2="544.5" y2="1482" stroke="#000" stroke-width="2.6"/>
<text x="529" y="1488.98" font-size="19.5" text-anchor="end">4</text>
<line x1="534" y1="1533.7" x2="544.5" y2="1533.7" stroke="#000" stroke-width="2.6"/>
<text x="529" y="1540.68" font-size="19.5" text-anchor="end">2</text>
<line x1="534" y1="1585.5" x2="544.5" y2="1585.5" stroke="#000" stroke-width="2.6"/>
<text x="529" y="1592.48" font-size="19.5" text-anchor="end">0</text>
<line x1="573.8" y1="1585.5" x2="573.8" y2="1596.5" stroke="#000" stroke-width="2.6"/>
<line x1="618.5" y1="1585.5" x2="618.5" y2="1596.5" stroke="#000" stroke-width="2.6"/>
<text x="534.5" y="1326" font-size="19.8">&#215;10<tspan font-size="14.5" dx="0.3" dy="-7.2">7</tspan></text>
<text x="506.2" y="1456.7" font-size="20.6" text-anchor="middle" transform="rotate(-90 506.2 1456.7)">intensity (A.U.)</text>
<text x="580.4" y="1609.5" font-size="21.3" text-anchor="end" transform="rotate(-45 580.4 1609.5)">ctrl</text>
<text x="630.5" y="1609.5" font-size="21.3" text-anchor="end" transform="rotate(-45 630.5 1609.5)">COASY KO</text>
<line x1="574.2" y1="1341.5" x2="617.9" y2="1341.5" stroke="#000" stroke-width="3" stroke-linecap="round"/>
<text x="596.05" y="1344.3" font-size="18.5" text-anchor="middle" font-weight="bold">**</text>
<line x1="559.3" y1="1370.4" x2="588.3" y2="1370.4" stroke="#000" stroke-width="2.6"/>
<line x1="573.8" y1="1358.9" x2="573.8" y2="1382.3" stroke="#000" stroke-width="2.6"/>
<line x1="566.1" y1="1358.9" x2="581.5" y2="1358.9" stroke="#000" stroke-width="2.6"/>
<line x1="566.1" y1="1382.3" x2="581.5" y2="1382.3" stroke="#000" stroke-width="2.6"/>
<circle cx="569.4" cy="1362.7" r="2.6" fill="#000"/>
<circle cx="578.5" cy="1364.9" r="2.6" fill="#000"/>
<circle cx="573.8" cy="1382.9" r="2.6" fill="#000"/>
<line x1="603.8" y1="1418.2" x2="632.8" y2="1418.2" stroke="#000" stroke-width="2.6"/>
<line x1="618.3" y1="1412.4" x2="618.3" y2="1424.8" stroke="#9E1F24" stroke-width="2.6"/>
<line x1="610.7" y1="1412.4" x2="625.9" y2="1412.4" stroke="#9E1F24" stroke-width="2.6"/>
<line x1="610.7" y1="1424.8" x2="625.9" y2="1424.8" stroke="#9E1F24" stroke-width="2.6"/>
<circle cx="613" cy="1414.6" r="2.6" fill="#9E1F24"/>
<circle cx="622.6" cy="1414.6" r="2.6" fill="#9E1F24"/>
<circle cx="618.5" cy="1424.8" r="2.6" fill="#9E1F24"/>
<text x="783.2" y="1295.9" font-size="23.2" text-anchor="middle">succinyl-CoA</text>
<line x1="735.4" y1="1328.5" x2="735.4" y2="1586.8" stroke="#000" stroke-width="2.6"/>
<line x1="724.7" y1="1585.5" x2="837.6" y2="1585.5" stroke="#000" stroke-width="2.6"/>
<line x1="724.9" y1="1328.5" x2="735.4" y2="1328.5" stroke="#000" stroke-width="2.6"/>
<text x="719.9" y="1335.48" font-size="19.5" text-anchor="end">3</text>
<line x1="724.9" y1="1414.2" x2="735.4" y2="1414.2" stroke="#000" stroke-width="2.6"/>
<text x="719.9" y="1421.18" font-size="19.5" text-anchor="end">2</text>
<line x1="724.9" y1="1499.8" x2="735.4" y2="1499.8" stroke="#000" stroke-width="2.6"/>
<text x="719.9" y="1506.78" font-size="19.5" text-anchor="end">1</text>
<line x1="724.9" y1="1585.5" x2="735.4" y2="1585.5" stroke="#000" stroke-width="2.6"/>
<text x="719.9" y="1592.48" font-size="19.5" text-anchor="end">0</text>
<line x1="763.9" y1="1585.5" x2="763.9" y2="1596.5" stroke="#000" stroke-width="2.6"/>
<line x1="808" y1="1585.5" x2="808" y2="1596.5" stroke="#000" stroke-width="2.6"/>
<text x="724" y="1326" font-size="19.8">&#215;10<tspan font-size="14.5" dx="0.3" dy="-7.2">7</tspan></text>
<text x="698" y="1456.7" font-size="20.6" text-anchor="middle" transform="rotate(-90 698 1456.7)">intensity (A.U.)</text>
<text x="770.5" y="1609.5" font-size="21.3" text-anchor="end" transform="rotate(-45 770.5 1609.5)">ctrl</text>
<text x="820" y="1609.5" font-size="21.3" text-anchor="end" transform="rotate(-45 820 1609.5)">COASY KO</text>
<line x1="764.5" y1="1334" x2="807.7" y2="1334" stroke="#000" stroke-width="3" stroke-linecap="round"/>
<text x="786.1" y="1336.8" font-size="18.5" text-anchor="middle" font-weight="bold">***</text>
<line x1="750" y1="1360.8" x2="778.6" y2="1360.8" stroke="#000" stroke-width="2.6"/>
<line x1="764.3" y1="1354.4" x2="764.3" y2="1367.7" stroke="#000" stroke-width="2.6"/>
<line x1="756" y1="1354.4" x2="772.6" y2="1354.4" stroke="#000" stroke-width="2.6"/>
<line x1="756" y1="1367.7" x2="772.6" y2="1367.7" stroke="#000" stroke-width="2.6"/>
<circle cx="765.2" cy="1357.2" r="2.6" fill="#000"/>
<circle cx="764.4" cy="1367.7" r="2.6" fill="#000"/>
<circle cx="761" cy="1356" r="2.6" fill="#000"/>
<line x1="793.7" y1="1454.1" x2="822.7" y2="1454.1" stroke="#000" stroke-width="2.6"/>
<line x1="808.2" y1="1444.2" x2="808.2" y2="1463.5" stroke="#9E1F24" stroke-width="2.6"/>
<line x1="800.4" y1="1444.2" x2="816" y2="1444.2" stroke="#9E1F24" stroke-width="2.6"/>
<line x1="800.4" y1="1463.5" x2="816" y2="1463.5" stroke="#9E1F24" stroke-width="2.6"/>
<circle cx="808.6" cy="1450.5" r="2.6" fill="#9E1F24"/>
<circle cx="808" cy="1462.9" r="2.6" fill="#9E1F24"/>
<circle cx="808.3" cy="1455" r="2.6" fill="#9E1F24"/>
<text x="974.7" y="1295.9" font-size="23.2" text-anchor="middle">C5:0-CoA</text>
<line x1="925.3" y1="1328.5" x2="925.3" y2="1586.8" stroke="#000" stroke-width="2.6"/>
<line x1="914.9" y1="1585.5" x2="1028" y2="1585.5" stroke="#000" stroke-width="2.6"/>
<line x1="914.8" y1="1328.5" x2="925.3" y2="1328.5" stroke="#000" stroke-width="2.6"/>
<text x="909.8" y="1335.48" font-size="19.5" text-anchor="end">8</text>
<line x1="914.8" y1="1392.7" x2="925.3" y2="1392.7" stroke="#000" stroke-width="2.6"/>
<text x="909.8" y="1399.68" font-size="19.5" text-anchor="end">6</text>
<line x1="914.8" y1="1457" x2="925.3" y2="1457" stroke="#000" stroke-width="2.6"/>
<text x="909.8" y="1463.98" font-size="19.5" text-anchor="end">4</text>
<line x1="914.8" y1="1521.2" x2="925.3" y2="1521.2" stroke="#000" stroke-width="2.6"/>
<text x="909.8" y="1528.18" font-size="19.5" text-anchor="end">2</text>
<line x1="914.8" y1="1585.5" x2="925.3" y2="1585.5" stroke="#000" stroke-width="2.6"/>
<text x="909.8" y="1592.48" font-size="19.5" text-anchor="end">0</text>
<line x1="954.3" y1="1585.5" x2="954.3" y2="1596.5" stroke="#000" stroke-width="2.6"/>
<line x1="998.5" y1="1585.5" x2="998.5" y2="1596.5" stroke="#000" stroke-width="2.6"/>
<text x="915.5" y="1326" font-size="19.8">&#215;10<tspan font-size="14.5" dx="0.3" dy="-7.2">6</tspan></text>
<text x="888" y="1456.7" font-size="20.6" text-anchor="middle" transform="rotate(-90 888 1456.7)">intensity (A.U.)</text>
<text x="960.9" y="1609.5" font-size="21.3" text-anchor="end" transform="rotate(-45 960.9 1609.5)">ctrl</text>
<text x="1010.5" y="1609.5" font-size="21.3" text-anchor="end" transform="rotate(-45 1010.5 1609.5)">COASY KO</text>
<line x1="955" y1="1343.4" x2="998.1" y2="1343.4" stroke="#000" stroke-width="3" stroke-linecap="round"/>
<text x="976.55" y="1346.2" font-size="18.5" text-anchor="middle" font-weight="bold">**</text>
<line x1="939.6" y1="1402.2" x2="969" y2="1402.2" stroke="#000" stroke-width="2.6"/>
<line x1="954.3" y1="1373.8" x2="954.3" y2="1431.2" stroke="#000" stroke-width="2.6"/>
<line x1="946.3" y1="1373.8" x2="962.3" y2="1373.8" stroke="#000" stroke-width="2.6"/>
<line x1="946.3" y1="1431.2" x2="962.3" y2="1431.2" stroke="#000" stroke-width="2.6"/>
<circle cx="954.3" cy="1376" r="2.6" fill="#000"/>
<circle cx="954.3" cy="1398" r="2.6" fill="#000"/>
<circle cx="954.3" cy="1432" r="2.6" fill="#000"/>
<line x1="984.1" y1="1520.9" x2="1013.5" y2="1520.9" stroke="#000" stroke-width="2.6"/>
<line x1="998.8" y1="1515.4" x2="998.8" y2="1527" stroke="#9E1F24" stroke-width="2.6"/>
<line x1="991.2" y1="1515.4" x2="1006.4" y2="1515.4" stroke="#9E1F24" stroke-width="2.6"/>
<line x1="991.2" y1="1527" x2="1006.4" y2="1527" stroke="#9E1F24" stroke-width="2.6"/>
<circle cx="998.5" cy="1515.9" r="2.6" fill="#9E1F24"/>
<circle cx="998.5" cy="1520.9" r="2.6" fill="#9E1F24"/>
<circle cx="998.5" cy="1527" r="2.6" fill="#9E1F24"/>
<text x="1161.8" y="1295.9" font-size="23.2" text-anchor="middle">C18:1-CoA</text>
<line x1="1112.8" y1="1329" x2="1112.8" y2="1586.8" stroke="#000" stroke-width="2.6"/>
<line x1="1102.3" y1="1585.5" x2="1215.5" y2="1585.5" stroke="#000" stroke-width="2.6"/>
<line x1="1102.3" y1="1371.3" x2="1112.8" y2="1371.3" stroke="#000" stroke-width="2.6"/>
<text x="1097.3" y="1378.28" font-size="19.5" text-anchor="end">10</text>
<line x1="1102.3" y1="1478.4" x2="1112.8" y2="1478.4" stroke="#000" stroke-width="2.6"/>
<text x="1097.3" y="1485.38" font-size="19.5" text-anchor="end">5</text>
<line x1="1102.3" y1="1585.5" x2="1112.8" y2="1585.5" stroke="#000" stroke-width="2.6"/>
<text x="1097.3" y="1592.48" font-size="19.5" text-anchor="end">0</text>
<line x1="1141.8" y1="1585.5" x2="1141.8" y2="1596.5" stroke="#000" stroke-width="2.6"/>
<line x1="1186.5" y1="1585.5" x2="1186.5" y2="1596.5" stroke="#000" stroke-width="2.6"/>
<text x="1102" y="1326" font-size="19.8">&#215;10<tspan font-size="14.5" dx="0.3" dy="-7.2">6</tspan></text>
<text x="1074" y="1456.7" font-size="20.6" text-anchor="middle" transform="rotate(-90 1074 1456.7)">intensity (A.U.)</text>
<text x="1148.4" y="1609.5" font-size="21.3" text-anchor="end" transform="rotate(-45 1148.4 1609.5)">ctrl</text>
<text x="1198.5" y="1609.5" font-size="21.3" text-anchor="end" transform="rotate(-45 1198.5 1609.5)">COASY KO</text>
<line x1="1142.4" y1="1346.2" x2="1186.1" y2="1346.2" stroke="#000" stroke-width="3" stroke-linecap="round"/>
<text x="1164.25" y="1349" font-size="18.5" text-anchor="middle" font-weight="bold">*</text>
<line x1="1127.8" y1="1400.3" x2="1156.8" y2="1400.3" stroke="#000" stroke-width="2.6"/>
<line x1="1142.3" y1="1377.3" x2="1142.3" y2="1422.9" stroke="#000" stroke-width="2.6"/>
<line x1="1134.2" y1="1377.3" x2="1150.4" y2="1377.3" stroke="#000" stroke-width="2.6"/>
<line x1="1134.2" y1="1422.9" x2="1150.4" y2="1422.9" stroke="#000" stroke-width="2.6"/>
<circle cx="1142.4" cy="1376.5" r="2.6" fill="#000"/>
<circle cx="1141.8" cy="1402.2" r="2.6" fill="#000"/>
<circle cx="1142.4" cy="1422.3" r="2.6" fill="#000"/>
<line x1="1172.4" y1="1483.1" x2="1200.8" y2="1483.1" stroke="#000" stroke-width="2.6"/>
<line x1="1186.6" y1="1451.1" x2="1186.6" y2="1515.4" stroke="#9E1F24" stroke-width="2.6"/>
<line x1="1178.4" y1="1451.1" x2="1194.8" y2="1451.1" stroke="#9E1F24" stroke-width="2.6"/>
<line x1="1178.4" y1="1515.4" x2="1194.8" y2="1515.4" stroke="#9E1F24" stroke-width="2.6"/>
<circle cx="1186.5" cy="1458" r="2.6" fill="#9E1F24"/>
<circle cx="1186.5" cy="1471.8" r="2.6" fill="#9E1F24"/>
<circle cx="1186.5" cy="1519.5" r="2.6" fill="#9E1F24"/>
</svg>
</body></html>
